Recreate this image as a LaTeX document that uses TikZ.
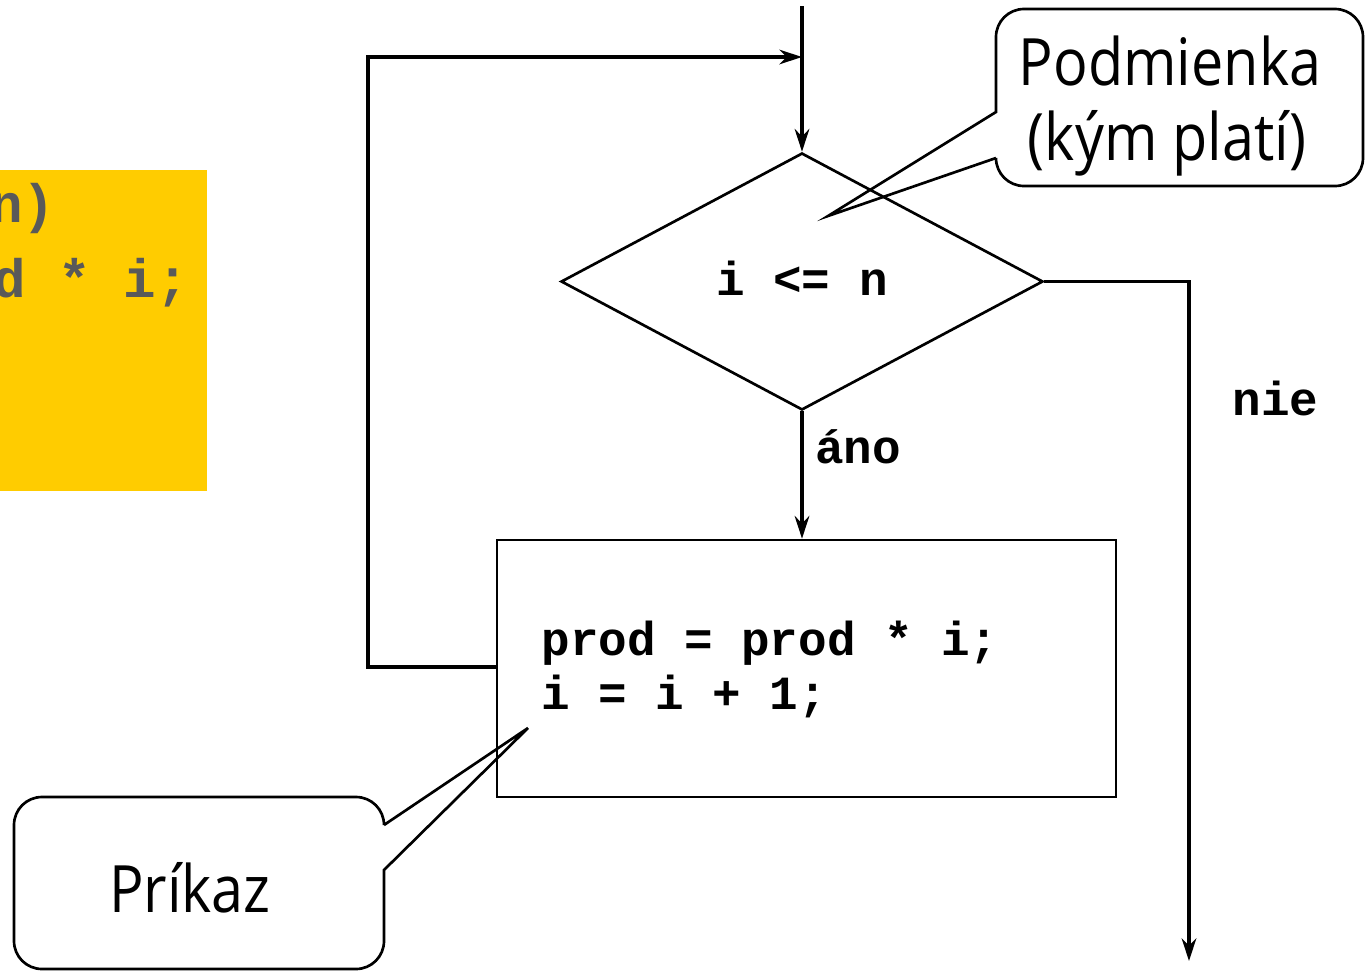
\documentclass[tikz,border=0pt]{standalone}
\usepackage{fontspec}
\usetikzlibrary{arrows.meta,shapes.geometric}
\newfontfamily\codefont{Liberation Mono}
\newfontfamily\callfont{Open Sans}[FakeStretch=0.88]
\definecolor{codeyellow}{HTML}{FFCC00}
\definecolor{codegray}{HTML}{595959}
\tikzset{
  conn/.style={line width=2.3pt,-{Stealth[length=17pt,width=11pt,inset=5.5pt]}},
  shapeline/.style={line width=2pt},
  code/.style={font=\codefont\bfseries\fontsize{35.7pt}{40pt}\selectfont,inner sep=0pt,anchor=base},
  bgcode/.style={font=\codefont\bfseries\fontsize{40.6pt}{44pt}\selectfont,inner sep=0pt,anchor=base,text=codegray},
  calltext/.style={font=\callfont\fontsize{49pt}{56pt}\selectfont,inner sep=0pt,anchor=base},
}
\begin{document}
\begin{tikzpicture}[x=0.75pt,y=-0.75pt]
\useasboundingbox (0,0) rectangle (1365,972);
% yellow code panel (cut off on the left)
\fill[codeyellow] (0,170) rectangle (207,491);
\node[bgcode] (y1) at (22.75,222) {n)};
\node[bgcode] (y2) at (91.25,297) {d * i;};
% flowchart
\node[diamond,draw,shapeline,minimum width=361.5pt,minimum height=192.75pt,inner sep=0pt] (cond) at (802,281.5) {};
\node[code] (condtxt) at (802,295) {i <= n};
\node[draw,shapeline,minimum width=464.25pt,minimum height=192.75pt,inner sep=0pt] (body) at (806.5,668.5) {};
\node[code] (l1) at (770,655) {prod = prod * i;};
\node[code] (l2) at (684,709) {i = i + 1;};
\coordinate (start) at (802,6);
\coordinate (join) at (802,57);
\coordinate (bodyleft) at (body.west |- 0,667);
\coordinate (exitc) at (cond.east -| 1189,0);
\coordinate (exitend) at (1189,961);
\draw[conn] (start) -- (cond.north);
\draw[conn] (bodyleft) -- (368,667) -- (368,57) -- (join);
\draw[conn] (cond.south) -- (cond.south |- body.north);
\draw[conn] (cond.east) -- (exitc) -- (exitend);
\node[code] (yes) at (858,463) {áno};
\node[code] (no) at (1275.5,415) {nie};
% callout: Podmienka
\coordinate (ptipA) at (828,216);
\draw[shapeline,line join=miter] (996,158) -- (ptipA) -- (996,112) -- (996,37)
  .. controls (996,21.5) and (1008.5,9) .. (1024,9) -- (1335,9)
  .. controls (1350.5,9) and (1363,21.5) .. (1363,37) -- (1363,158)
  .. controls (1363,173.5) and (1350.5,186) .. (1335,186) -- (1024,186)
  .. controls (1008.5,186) and (996,173.5) .. (996,158);
\node[calltext] (podm1) at (1170,85) {Podmienka};
\node[calltext] (podm2) at (1167,160) {(kým platí)};
% callout: Príkaz
\coordinate (ptipB) at (528,728);
\draw[shapeline,line join=miter] (384,825) -- (ptipB) -- (384,870) -- (384,941)
  .. controls (384,956.5) and (371.5,969) .. (356,969) -- (42,969)
  .. controls (26.5,969) and (14,956.5) .. (14,941) -- (14,825)
  .. controls (14,809.5) and (26.5,797) .. (42,797) -- (356,797)
  .. controls (371.5,797) and (384,809.5) .. (384,825);
\node[calltext] (prik) at (190,912) {Príkaz};
\end{tikzpicture}
\end{document}
